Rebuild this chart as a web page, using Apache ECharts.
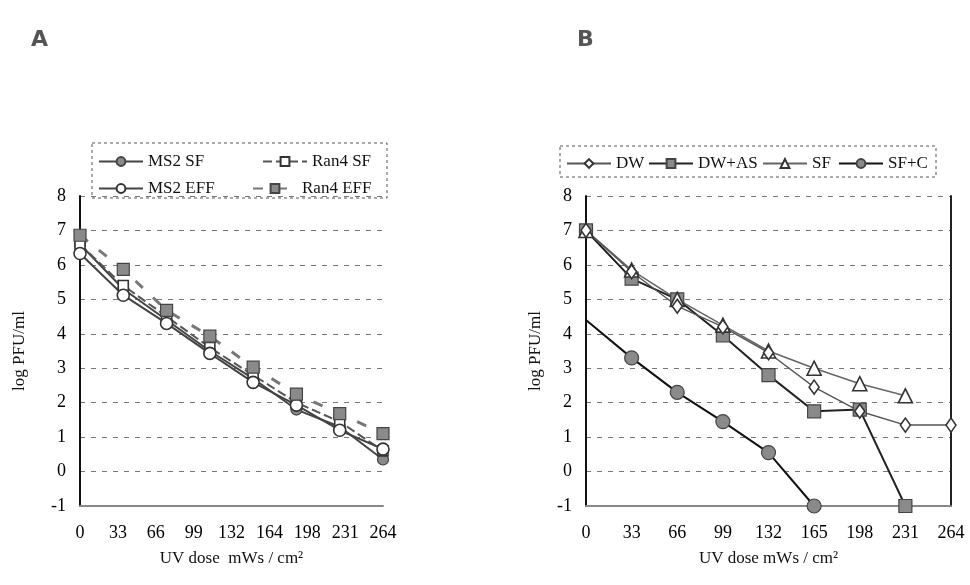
<!DOCTYPE html>
<html>
<head>
<meta charset="utf-8">
<script src="https://cdn.jsdelivr.net/npm/echarts@6/dist/echarts.min.js"></script>
<style>
  html, body { margin: 0; background: #fff; }
  #chart { width: 970px; height: 585px; }
</style>
</head>
<body>
<div id="chart"></div>
<script>
// tick labels
const doseLabelsA = ['0', '33', '66', '99', '132', '164', '198', '231', '264']
const doseLabelsB = ['0', '33', '66', '99', '132', '165', '198', '231', '264']
// panel A has 8 measured points spread over the full axis width
const stepsA = ['1', '2', '3', '4', '5', '6', '7', '8']

// panel A (log PFU/ml)
const ms2SF = [6.6, 5.3, 4.4, 3.5, 2.7, 1.8, 1.3, 0.35]
const ran4SF = [6.6, 5.4, 4.5, 3.6, 2.8, 2.0, 1.45, 0.6]
const ms2EFF = [6.33, 5.12, 4.3, 3.43, 2.59, 1.93, 1.2, 0.65]
const ran4EFF = [6.86, 5.87, 4.68, 3.93, 3.03, 2.25, 1.68, 1.1]

// panel B (log PFU/ml)
const dw = [7.0, 5.8, 4.8, 4.2, 3.45, 2.45, 1.75, 1.35, 1.35]
const dwAS = [7.0, 5.6, 5.0, 3.95, 2.8, 1.75, 1.8, -1, null]
const sf = [7.0, 5.85, 5.0, 4.25, 3.5, 3.0, 2.55, 2.2, null]
const sfC = [4.4, 3.3, 2.3, 1.45, 0.55, -1, null, null, null]

const serif = 'Liberation Serif'
const txt = { fontFamily: serif, fontSize: 18, color: '#000' }

const chart = echarts.init(document.getElementById('chart'))

function yAxisOf(gridIndex, gap) {
  return {
    gridIndex: gridIndex,
    type: 'value',
    min: -1, max: 8, interval: 1,
    name: 'log PFU/ml',
    nameLocation: 'middle',
    nameGap: gap,
    nameTextStyle: { fontFamily: serif, fontSize: 17, color: '#111' },
    axisLine: { show: true, lineStyle: { color: '#111', width: 2 } },
    axisTick: { show: false },
    axisLabel: Object.assign({ margin: 14 }, txt),
    splitLine: { show: true, lineStyle: { color: '#777', type: [5, 6], width: 1 } }
  }
}

function xAxisOf(gridIndex, labels, title) {
  return {
    gridIndex: gridIndex,
    type: 'category',
    boundaryGap: false,
    data: labels,
    name: title,
    nameLocation: 'middle',
    nameGap: 44,
    nameTextStyle: { fontFamily: serif, fontSize: 17, color: '#111' },
    axisLine: { onZero: false, lineStyle: { color: '#888', width: 2 } },
    axisTick: { show: false },
    axisLabel: Object.assign({ margin: 18, interval: 0 }, txt),
    splitLine: { show: false }
  }
}

function lineSeries(name, data, xi, yi, opt) {
  return Object.assign({
    name: name,
    type: 'line',
    xAxisIndex: xi,
    yAxisIndex: yi,
    data: data,
    symbolSize: 11,
    connectNulls: false
  }, opt)
}

const hollow = { color: '#fff', borderColor: '#333', borderWidth: 1.6 }
const filled = { color: '#8a8a8a', borderColor: '#444', borderWidth: 1.2 }

const sfCData = sfC.map((v, i) => i === 0 ? { value: v, symbol: 'none' } : v)

const legendText = { fontFamily: serif, fontSize: 17, color: '#111' }
function legendAt(name, left, top) {
  return {
    data: [name], left: left, top: top,
    itemWidth: 44, itemHeight: 11, textStyle: legendText,
    selectedMode: false, padding: 0
  }
}

const option = {
  backgroundColor: '#fff',
  animation: false,
  title: [
    { text: 'A', left: 26, top: 24, textStyle: { fontFamily: 'DejaVu Sans', fontSize: 22, fontWeight: 'bold', color: '#555' } },
    { text: 'B', left: 572, top: 24, textStyle: { fontFamily: 'DejaVu Sans', fontSize: 22, fontWeight: 'bold', color: '#555' } }
  ],
  grid: [
    { left: 80, top: 196, width: 303, height: 310 },
    { left: 586, top: 196, width: 365, height: 310 }
  ],
  xAxis: [
    xAxisOf(0, doseLabelsA, 'UV dose  mWs / cm²'),
    { gridIndex: 0, type: 'category', boundaryGap: false, data: stepsA, show: false },
    xAxisOf(1, doseLabelsB, 'UV dose mWs / cm²')
  ],
  yAxis: [
    yAxisOf(0, 52),
    yAxisOf(1, 42),
    {
      gridIndex: 1, type: 'value', position: 'right', min: -1, max: 8, interval: 1,
      axisLine: { show: true, lineStyle: { color: '#222', width: 2 } },
      axisTick: { show: false }, axisLabel: { show: false }, splitLine: { show: false }
    }
  ],
  legend: [
    legendAt('MS2 SF', 98, 153),
    legendAt('Ran4 SF', 262, 153),
    legendAt('MS2 EFF', 98, 180),
    legendAt('Ran4 EFF', 252, 180),
    legendAt('DW', 566, 155),
    legendAt('DW+AS', 648, 155),
    legendAt('SF', 762, 155),
    legendAt('SF+C', 838, 155)
  ],
  graphic: [
    { type: 'rect', shape: { x: 92, y: 143, width: 295, height: 55 },
      style: { fill: 'none', stroke: '#555', lineWidth: 1, lineDash: [3, 3] } },
    { type: 'rect', shape: { x: 560, y: 146, width: 376, height: 31 },
      style: { fill: 'none', stroke: '#555', lineWidth: 1, lineDash: [3, 3] } }
  ],
  series: [
    lineSeries('MS2 SF', ms2SF, 1, 0, {
      symbol: 'circle', itemStyle: filled,
      lineStyle: { color: '#444', width: 2 }
    }),
    lineSeries('Ran4 SF', ran4SF, 1, 0, {
      symbol: 'rect', symbolSize: 10, itemStyle: hollow,
      lineStyle: { color: '#555', width: 2, type: [9, 4] }
    }),
    lineSeries('MS2 EFF', ms2EFF, 1, 0, {
      symbol: 'circle', symbolSize: 12, itemStyle: hollow,
      lineStyle: { color: '#444', width: 2 }
    }),
    lineSeries('Ran4 EFF', ran4EFF, 1, 0, {
      symbol: 'rect', symbolSize: 12, itemStyle: filled,
      lineStyle: { color: '#777', width: 3, type: [10, 14] }
    }),
    lineSeries('DW+AS', dwAS, 2, 1, {
      symbol: 'rect', symbolSize: 13, itemStyle: filled,
      lineStyle: { color: '#222', width: 2 }
    }),
    lineSeries('SF', sf, 2, 1, {
      symbol: 'triangle', symbolSize: 14, itemStyle: hollow,
      lineStyle: { color: '#666', width: 1.6 }
    }),
    lineSeries('DW', dw, 2, 1, {
      symbol: 'diamond', symbolSize: [10, 14], itemStyle: hollow,
      lineStyle: { color: '#555', width: 1.4 }
    }),
    lineSeries('SF+C', sfCData, 2, 1, {
      symbol: 'circle', symbolSize: 14, itemStyle: filled,
      lineStyle: { color: '#111', width: 2 }
    })
  ]
}

chart.setOption(option)
window.addEventListener('resize', () => {
  chart.resize()
})
</script>
</body>
</html>
